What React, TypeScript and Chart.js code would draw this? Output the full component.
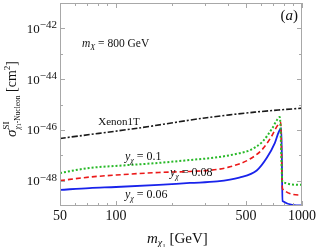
import { useEffect, useRef } from "react";
import { Chart, registerables } from "chart.js";

Chart.register(...registerables);

// ---- data ----
const xenonMass = [50, 131, 300, 557, 1000];
const xenonSigma = [4.6e-47, 1.17e-46, 2.95e-46, 5.0e-46, 7.2e-46];

const greenMass = [50, 72, 100, 170, 250, 350, 460, 525, 615, 690, 735, 760, 785, 1000];
const greenSigma = [2.0e-48, 3.16e-48, 3.8e-48, 5.0e-48, 6.5e-48, 8.3e-48, 1.2e-47, 1.58e-47, 3.5e-47, 1.12e-46, 2.5e-46, 3.2e-46, 8.9e-49, 6.8e-49];

const redMass = [50, 72, 100, 170, 250, 350, 410, 525, 615, 690, 735, 768, 785, 1000];
const redSigma = [1.0e-48, 1.38e-48, 1.66e-48, 2.1e-48, 2.3e-48, 2.75e-48, 3.5e-48, 7.1e-48, 1.78e-47, 6.0e-47, 1.41e-46, 2.0e-46, 4.7e-49, 2.7e-49];

const blueMass = [50, 72, 100, 170, 250, 350, 460, 571, 647, 714, 750, 775, 785, 1000];
const blueSigma = [4.3e-49, 5.1e-49, 5.6e-49, 6.8e-49, 8.1e-49, 9.3e-49, 1.32e-48, 2.5e-48, 7.9e-48, 3.0e-47, 8.3e-47, 1.17e-46, 1.58e-49, 1.05e-49];

const xMajorTicks = [50, 100, 500, 1000];
const xMajorLabels = ["50", "100", "500", "1000"];
const xMinorTicks = [60, 70, 80, 90, 200, 300, 400, 600, 700, 800, 900];
const yDecades = [-48, -47, -46, -45, -44, -43, -42];
const yLabelDecades = [-48, -46, -44, -42];

const SERIF = '"Liberation Serif", "DejaVu Serif", serif';

type Part = { t: string; size: number; italic?: boolean; dy?: number; noAdvance?: boolean };

function fontOf(p: Part) {
  return `${p.italic ? "italic " : ""}${p.size}px ${SERIF}`;
}

function drawParts(ctx: CanvasRenderingContext2D, parts: Part[], x: number, y: number, align: "left" | "center" | "right") {
  let w = 0;
  for (const p of parts) {
    ctx.font = fontOf(p);
    if (!p.noAdvance) w += ctx.measureText(p.t).width;
  }
  let cx = align === "left" ? x : align === "center" ? x - w / 2 : x - w;
  ctx.textAlign = "left";
  ctx.textBaseline = "alphabetic";
  for (const p of parts) {
    ctx.font = fontOf(p);
    ctx.fillText(p.t, cx, y + (p.dy || 0));
    if (!p.noAdvance) cx += ctx.measureText(p.t).width;
  }
}

const framePlugin = {
  id: "mmaFrame",
  afterDraw(chart: any) {
    const { ctx, chartArea: a, scales } = chart;
    const xs = scales.x;
    const ys = scales.y;
    ctx.save();
    // frame
    ctx.strokeStyle = "#a8a8a8";
    ctx.lineWidth = 1;
    ctx.strokeRect(a.left + 0.5, a.top + 0.5, a.right - a.left - 1, a.bottom - a.top - 1);
    const seg = (x1: number, y1: number, x2: number, y2: number) => {
      ctx.beginPath();
      ctx.moveTo(x1, y1);
      ctx.lineTo(x2, y2);
      ctx.stroke();
    };
    // x ticks (inward, bottom and top)
    for (const v of xMajorTicks) {
      const px = Math.round(xs.getPixelForValue(v)) + 0.5;
      seg(px, a.bottom, px, a.bottom - 5);
      seg(px, a.top, px, a.top + 5);
    }
    for (const v of xMinorTicks) {
      const px = Math.round(xs.getPixelForValue(v)) + 0.5;
      seg(px, a.bottom, px, a.bottom - 3);
      seg(px, a.top, px, a.top + 3);
    }
    // y ticks (inward, left and right)
    for (const d of yDecades) {
      const py = Math.round(ys.getPixelForValue(Math.pow(10, d))) + 0.5;
      const len = d % 2 === 0 ? 5 : 3;
      seg(a.left, py, a.left + len, py);
      seg(a.right, py, a.right - len, py);
    }

    ctx.fillStyle = "#111";
    // x tick labels
    xMajorTicks.forEach((v, i) => {
      const px = xs.getPixelForValue(v);
      drawParts(ctx, [{ t: xMajorLabels[i], size: 14 }], px, a.bottom + 14, "center");
    });
    // y tick labels 10^n
    for (const d of yLabelDecades) {
      const py = ys.getPixelForValue(Math.pow(10, d));
      drawParts(ctx, [{ t: "10", size: 13 }, { t: "\u2212" + String(-d), size: 11, dy: -4.5 }], a.left - 3, py + 4.5, "right");
    }

    // x axis title
    drawParts(
      ctx,
      [
        { t: "m", size: 15, italic: true },
        { t: "\u03c7", size: 10, italic: true, dy: 3 },
        { t: "1", size: 7, dy: 5 },
        { t: " [GeV]", size: 15 },
      ],
      147,
      243,
      "left"
    );

    // y axis title (rotated)
    ctx.save();
    ctx.translate(16, 137);
    ctx.rotate(-Math.PI / 2);
    drawParts(
      ctx,
      [
        { t: "\u03c3", size: 15, italic: true },
        { t: "SI", size: 9, dy: -7, noAdvance: true },
        { t: "\u03c7", size: 7.5, italic: true, dy: 3.5 },
        { t: "1", size: 6, dy: 5 },
        { t: "-Nucleon", size: 7.5, dy: 3.5 },
        { t: " [cm", size: 14 },
        { t: "2", size: 9, dy: -6 },
        { t: "]", size: 14 },
      ],
      0,
      0,
      "left"
    );
    ctx.restore();

    // annotations
    drawParts(
      ctx,
      [
        { t: "m", size: 11.5, italic: true },
        { t: "X", size: 8, italic: true, dy: 2.5 },
        { t: " = 800 GeV", size: 11.5 },
      ],
      82,
      47,
      "left"
    );
    drawParts(ctx, [{ t: "(", size: 15 }, { t: "a", size: 15, italic: true }, { t: ")", size: 15 }], 298, 20, "right");
    drawParts(ctx, [{ t: "Xenon1T", size: 11 }], 119, 125, "center");
    const yLab = (val: string, x: number, y: number) =>
      drawParts(
        ctx,
        [
          { t: "y", size: 12, italic: true },
          { t: "\u03c7", size: 8, italic: true, dy: 2.5 },
          { t: " = " + val, size: 12 },
        ],
        x,
        y,
        "left"
      );
    yLab("0.1", 125, 160);
    yLab("0.08", 170, 176);
    yLab("0.06", 125, 198);
    ctx.restore();
  },
};

export default function App() {
  const ref = useRef<HTMLCanvasElement | null>(null);
  useEffect(() => {
    document.body.style.margin = "0";
    const canvas = ref.current;
    if (!canvas) return;
    const pts = (xs: number[], ys: number[]) => xs.map((x, i) => ({ x, y: ys[i] }));
    const chart = new Chart(canvas, {
      type: "line",
      data: {
        datasets: [
          {
            label: "Xenon1T",
            data: pts(xenonMass, xenonSigma),
            borderColor: "#1a1a1a",
            borderWidth: 1.6,
            borderDash: [6, 2, 2, 2],
            pointRadius: 0,
            tension: 0.3,
          },
          {
            label: "y = 0.1",
            data: pts(greenMass, greenSigma),
            borderColor: "rgb(40,185,40)",
            borderWidth: 2,
            borderDash: [2, 2],
            pointRadius: 0,
            cubicInterpolationMode: "monotone",
          },
          {
            label: "y = 0.08",
            data: pts(redMass, redSigma),
            borderColor: "rgb(235,25,25)",
            borderWidth: 1.6,
            borderDash: [5, 3],
            pointRadius: 0,
            cubicInterpolationMode: "monotone",
          },
          {
            label: "y = 0.06",
            data: pts(blueMass, blueSigma),
            borderColor: "rgb(25,35,235)",
            borderWidth: 1.8,
            pointRadius: 0,
            cubicInterpolationMode: "monotone",
          },
        ],
      },
      options: {
        responsive: false,
        devicePixelRatio: 1,
        animation: false,
        layout: { padding: { top: 3, right: 15, left: 0, bottom: 0 } },
        plugins: { legend: { display: false }, tooltip: { enabled: false } },
        scales: {
          x: {
            type: "logarithmic",
            min: 50,
            max: 1000,
            ticks: { display: false },
            grid: { display: false },
            border: { display: false },
            afterFit: (s: any) => {
              s.height = 41;
            },
          },
          y: {
            type: "logarithmic",
            min: 1e-49,
            max: 1e-41,
            ticks: { display: false },
            grid: { display: false },
            border: { display: false },
            afterFit: (s: any) => {
              s.width = 60;
            },
          },
        },
      } as any,
      plugins: [framePlugin],
    });
    return () => chart.destroy();
  }, []);
  return (
    <div style={{ width: 317, height: 247, background: "#fff" }}>
      <canvas ref={ref} width={317} height={247} style={{ display: "block" }} />
    </div>
  );
}
